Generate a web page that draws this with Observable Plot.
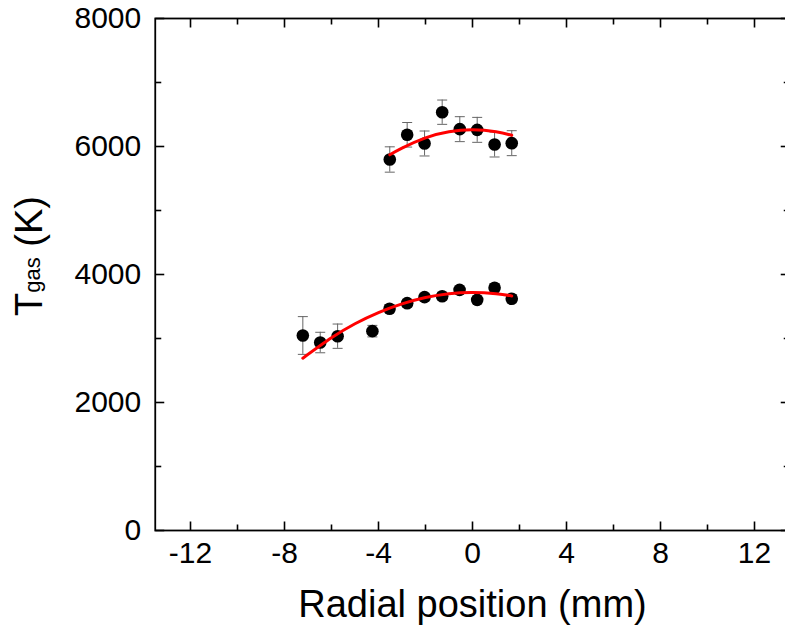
<!DOCTYPE html>
<html><head><meta charset="utf-8">
<script src="https://cdn.jsdelivr.net/npm/d3@7"></script>
<script src="https://cdn.jsdelivr.net/npm/@observablehq/plot@0.6"></script>
<style>body{margin:0;background:#fff;overflow:hidden;} svg{display:block;}</style>
</head><body><div id="chart"></div>
<script>
// Measured data (upper profile)
const upperX = [-3.52, -2.78, -2.04, -1.29, -0.54, 0.20, 0.94, 1.67];
const upperT = [5797, 6183, 6047, 6536, 6271, 6260, 6031, 6052];
const upperErr = [198, 192, 195, 190, 195, 195, 195, 195];
// Measured data (lower profile)
const lowerX = [-7.22, -6.48, -5.74, -4.26, -3.53, -2.78, -2.04, -1.29, -0.55, 0.20, 0.94, 1.67];
const lowerT = [3047, 2937, 3036, 3115, 3464, 3552, 3646, 3661, 3760, 3604, 3792, 3620];
const lowerErr = [295, 160, 190, 90, 60, 60, 60, 60, 60, 60, 60, 60];
// Fit curves
const fitUpperX = [-3.52, -3, -2, -1, 0, 1, 1.67];
const fitUpperT = [5870, 5975, 6135, 6230, 6260, 6230, 6175];
const fitLowerX = [-7.22, -6, -5, -4, -3, -2, -1, 0, 1, 1.67];
const fitLowerT = [2692, 3010, 3230, 3405, 3540, 3640, 3700, 3720, 3700, 3665];
// Ticks
const xTicks = [-12, -8, -4, 0, 4, 8, 12];
const xMinor = [-10, -6, -2, 2, 6, 10];
const yTicks = [0, 2000, 4000, 6000, 8000];
const yMinor = [1000, 3000, 5000, 7000];
const xDomain = [-13.5, 13.5];
const yDomain = [0, 8000];

const points = upperX.map((x, i) => ({x, t: upperT[i], e: upperErr[i]}))
  .concat(lowerX.map((x, i) => ({x, t: lowerT[i], e: lowerErr[i]})));
const fitUpper = fitUpperX.map((x, i) => ({x, t: fitUpperT[i]}));
const fitLower = fitLowerX.map((x, i) => ({x, t: fitLowerT[i]}));

const seg = (dx, dy) => ({draw(ctx) { ctx.moveTo(0, 0); ctx.lineTo(dx, dy); }});
const cap = {draw(ctx) { ctx.moveTo(-5, 0); ctx.lineTo(5, 0); }};
const MAJ = 9, MIN = 6;
const tk = (data, opts, sym, w) => Plot.dot(data, {...opts, symbol: sym, fill: "none", stroke: "black", strokeWidth: w});

const W = 785, H = 628;
const chart = Plot.plot({
  width: W, height: H,
  marginLeft: 154.75, marginRight: W - 789.25, marginTop: 18, marginBottom: 98,
  x: {domain: xDomain, axis: null},
  y: {domain: yDomain, axis: null},
  style: {fontFamily: "'Liberation Sans', Arial, sans-serif", background: "white", overflow: "visible"},
  marks: [
    Plot.ruleX(points, {x: "x", y1: d => d.t - d.e, y2: d => d.t + d.e, stroke: "#666", strokeWidth: 1}),
    Plot.dot(points, {x: "x", y: d => d.t - d.e, symbol: cap, fill: "none", stroke: "#666", strokeWidth: 1}),
    Plot.dot(points, {x: "x", y: d => d.t + d.e, symbol: cap, fill: "none", stroke: "#666", strokeWidth: 1}),
    Plot.dot(points, {x: "x", y: "t", r: 6.3, fill: "black", stroke: "none"}),
    Plot.line(fitUpper, {x: "x", y: "t", stroke: "#ff0000", strokeWidth: 3, curve: "natural"}),
    Plot.line(fitLower, {x: "x", y: "t", stroke: "#ff0000", strokeWidth: 3, curve: "natural"}),
    // inward ticks on all four sides
    tk(xTicks, {x: d => d, y: () => yDomain[0]}, seg(0, -MAJ), 1.6),
    tk(xMinor, {x: d => d, y: () => yDomain[0]}, seg(0, -MIN), 1.6),
    tk(xTicks, {x: d => d, y: () => yDomain[1]}, seg(0, MAJ), 1.6),
    tk(xMinor, {x: d => d, y: () => yDomain[1]}, seg(0, MIN), 1.6),
    tk(yTicks, {y: d => d, x: () => xDomain[0]}, seg(MAJ, 0), 1.6),
    tk(yMinor, {y: d => d, x: () => xDomain[0]}, seg(MIN, 0), 1.6),
    tk(yTicks, {y: d => d, x: () => xDomain[1]}, seg(-MAJ, 0), 1.6),
    tk(yMinor, {y: d => d, x: () => xDomain[1]}, seg(-MIN, 0), 1.6),
    Plot.frame({stroke: "black", strokeWidth: 1.8}),
    Plot.axisX(xTicks, {anchor: "bottom", tickSize: 0, tickPadding: 11, fontSize: 30, label: null, tickFormat: d => d < 0 ? "-" + Math.abs(d) : String(d)}),
    Plot.axisY(yTicks, {anchor: "left", tickSize: 0, tickPadding: 14, fontSize: 30, label: null, tickFormat: d => String(d)})
  ]
});
document.getElementById("chart").appendChild(chart);

const svg = d3.select(chart);
svg.append("text")
  .attr("x", 472.5).attr("y", 617)
  .attr("text-anchor", "middle")
  .attr("font-family", "'Liberation Sans', Arial, sans-serif")
  .attr("font-size", 38).attr("fill", "black")
  .text("Radial position (mm)");
const yl = svg.append("text")
  .attr("transform", "translate(42,256) rotate(-90)")
  .attr("text-anchor", "middle")
  .attr("font-family", "'Liberation Sans', Arial, sans-serif")
  .attr("font-size", 38).attr("fill", "black");
yl.append("tspan").text("T");
yl.append("tspan").attr("font-size", 22).attr("dy", -2.5).text("gas");
yl.append("tspan").attr("dy", 2.5).text(" (K)");
</script>
</body></html>
